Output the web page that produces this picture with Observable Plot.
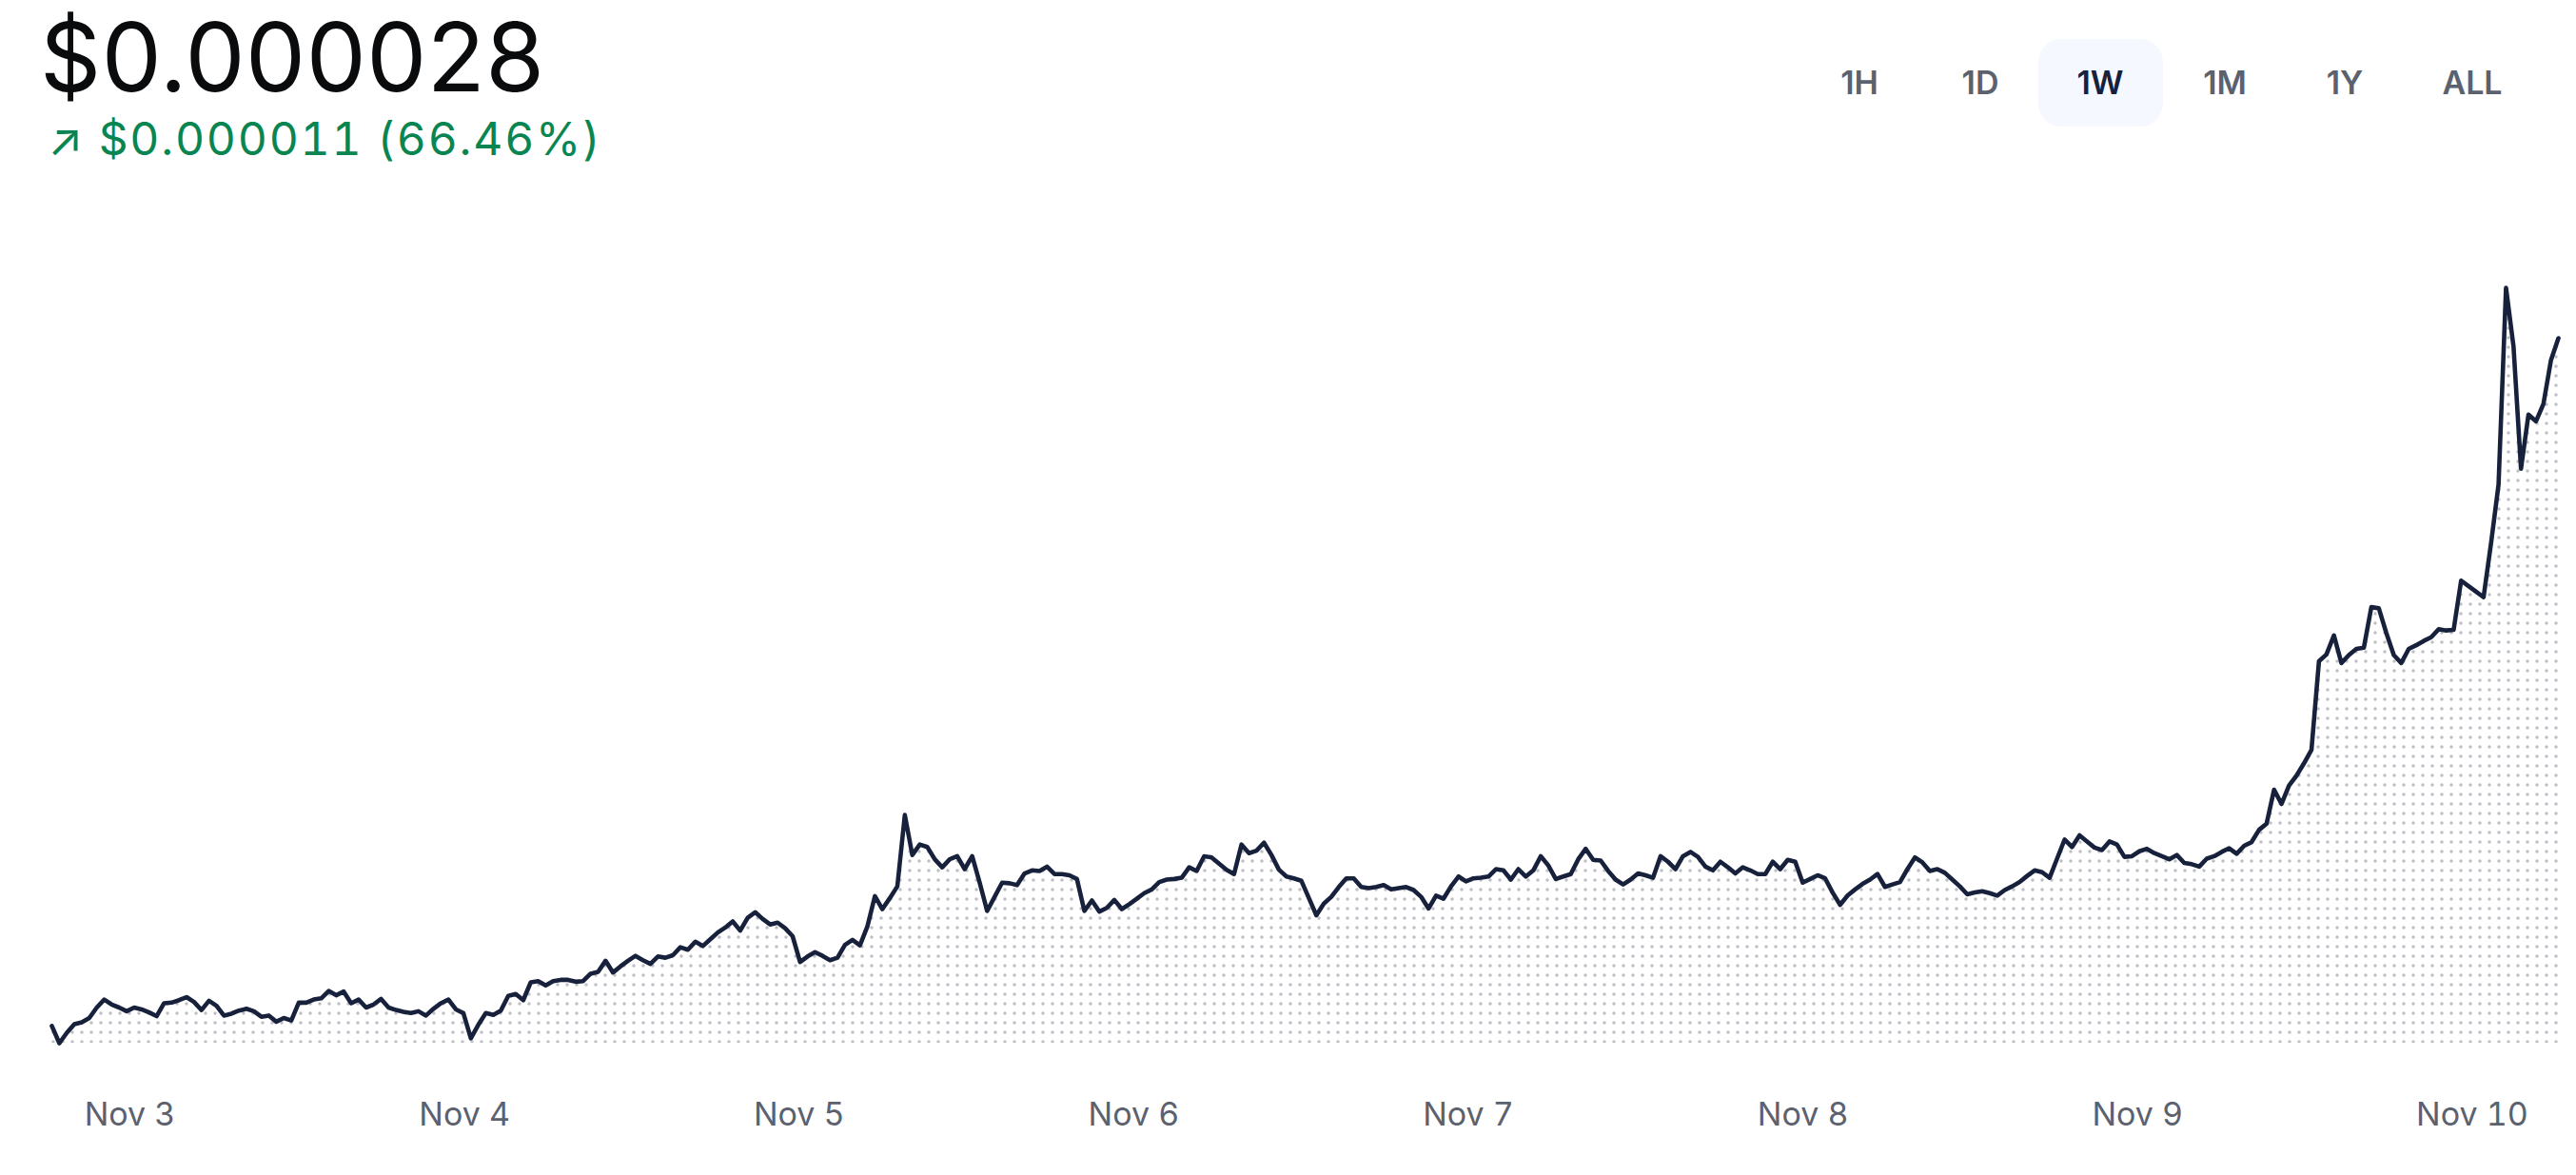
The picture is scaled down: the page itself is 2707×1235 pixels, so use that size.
<!DOCTYPE html>
<html>
<head>
<meta charset="utf-8">
<script src="https://cdn.jsdelivr.net/npm/d3@7"></script>
<script src="https://cdn.jsdelivr.net/npm/@observablehq/plot@0.6"></script>
<style>
  html, body { margin: 0; padding: 0; background: #ffffff; }
  body { width: 2707px; height: 1235px; position: relative; overflow: hidden; font-family: Inter, "Noto Sans", sans-serif; }
  #price { position: absolute; left: 42px; top: 5px; font-size: 100px; line-height: 1.1; letter-spacing: 0.5px; color: #0a0b0d; font-weight: 400; white-space: nowrap; }
  #change { position: absolute; left: 50px; top: 122px; font-size: 48px; line-height: 1; color: #098551; letter-spacing: 1.8px; font-variant-numeric: tabular-nums; white-space: nowrap; }
  .btn { position: absolute; top: 41px; width: 131px; height: 92px; line-height: 92px; text-align: center; font-size: 34px; font-weight: 600; color: #5b616e; border-radius: 24px; }
  .btn.active { background: #f5f8ff; color: #16213e; }
  #chart { position: absolute; left: 0; top: 200px; }
</style>
</head>
<body>
<div id="price"></div>
<div id="change"></div>
<div id="ranges"></div>
<div id="chart"></div>
<script>
// ---- data (prices in millionths of a US dollar, 1W view) ----
const headlinePrice = "$0.000028";
const changeText = "↗ $0.000011 (66.46%)";
const rangeLabels = ["1H", "1D", "1W", "1M", "1Y", "ALL"];
const activeRange = "1W";
const startTime = "2024-11-02T18:24:00Z";
const stepMinutes = 32.2;
const tickDays = ["2024-11-03", "2024-11-04", "2024-11-05", "2024-11-06", "2024-11-07", "2024-11-08", "2024-11-09", "2024-11-10"];
const priceMicroUSD = [
  16.82, 16.54, 16.71, 16.85, 16.88, 16.95, 17.12, 17.25, 17.17, 17.12,
  17.06, 17.12, 17.09, 17.04, 16.98, 17.19, 17.20, 17.24, 17.29, 17.21,
  17.08, 17.23, 17.15, 16.99, 17.02, 17.07, 17.10, 17.06, 16.97, 16.99,
  16.89, 16.95, 16.91, 17.20, 17.20, 17.25, 17.27, 17.39, 17.32, 17.38,
  17.19, 17.25, 17.12, 17.17, 17.26, 17.12, 17.08, 17.05, 17.03, 17.06,
  16.99, 17.10, 17.19, 17.25, 17.09, 17.03, 16.62,
  16.84, 17.03, 17.00, 17.07, 17.31, 17.34, 17.24, 17.53, 17.55, 17.48,
  17.55, 17.57, 17.57, 17.54, 17.55, 17.67, 17.70, 17.88, 17.69, 17.79,
  17.88, 17.96, 17.89, 17.83, 17.95, 17.93, 17.97, 18.10, 18.06, 18.19,
  18.12, 18.23, 18.34, 18.42, 18.52, 18.37, 18.58, 18.67, 18.56, 18.47,
  18.50, 18.41, 18.28, 17.86, 17.95, 18.02, 17.96, 17.89, 17.93, 18.14,
  18.22, 18.13, 18.44, 18.93, 18.72,
  18.90, 19.09, 20.25, 19.60, 19.77, 19.73, 19.53, 19.40, 19.53, 19.58,
  19.37, 19.58, 19.15, 18.69, 18.92, 19.15, 19.14, 19.11, 19.30, 19.35,
  19.34, 19.41, 19.29, 19.29, 19.27, 19.21, 18.69, 18.86, 18.68, 18.74,
  18.87, 18.72, 18.80, 18.89, 18.98, 19.04, 19.16, 19.20, 19.21, 19.23,
  19.40, 19.34, 19.58, 19.56, 19.46, 19.36, 19.29, 19.77, 19.63, 19.67,
  19.80, 19.60, 19.36, 19.25, 19.22, 19.18,
  18.90, 18.62, 18.81, 18.92, 19.08, 19.22, 19.22, 19.08, 19.06, 19.08,
  19.11, 19.04, 19.06, 19.08, 19.03, 18.92, 18.73, 18.94, 18.89, 19.09,
  19.25, 19.17, 19.22, 19.23, 19.25, 19.37, 19.35, 19.20, 19.37, 19.25,
  19.35, 19.58, 19.43, 19.21, 19.25, 19.29, 19.53, 19.70, 19.52, 19.51,
  19.34, 19.20, 19.12, 19.20, 19.30, 19.27, 19.23, 19.58, 19.49, 19.37,
  19.58, 19.65, 19.57, 19.41, 19.35, 19.49,
  19.40, 19.30, 19.40, 19.35, 19.29, 19.29, 19.49, 19.37, 19.52, 19.49,
  19.15, 19.21, 19.27, 19.22, 18.99, 18.79, 18.94, 19.04, 19.13, 19.20,
  19.29, 19.08, 19.12, 19.16, 19.37, 19.56, 19.48, 19.34, 19.37, 19.31,
  19.20, 19.09, 18.96, 18.99, 19.01, 18.98, 18.94, 19.03, 19.09, 19.16,
  19.26, 19.35, 19.32, 19.23, 19.54, 19.85, 19.73, 19.92, 19.82, 19.72,
  19.68, 19.82, 19.77, 19.57, 19.58, 19.66, 19.70, 19.63,
  19.58, 19.53, 19.60, 19.47, 19.45, 19.41, 19.54, 19.58, 19.65, 19.71,
  19.62, 19.75, 19.81, 20.01, 20.11, 20.66, 20.43, 20.73, 20.89, 21.09,
  21.31, 22.75, 22.86, 23.17, 22.72, 22.85, 22.95, 22.97, 23.63, 23.61,
  23.21, 22.85, 22.72, 22.95, 23.01, 23.08, 23.14, 23.27, 23.25, 23.26,
  24.06, 23.97, 23.88, 23.79, 24.67, 25.62, 28.82, 27.87, 25.88, 26.76,
  26.65, 26.93, 27.64, 28.00
];

// ---- header ----
document.getElementById("price").textContent = headlinePrice;
document.getElementById("change").textContent = changeText;
const rangeCenters = [1954, 2081, 2207, 2338, 2464, 2598];
const ranges = document.getElementById("ranges");
rangeLabels.forEach((r, i) => {
  const b = document.createElement("div");
  b.className = "btn" + (r === activeRange ? " active" : "");
  b.style.left = (rangeCenters[i] - 65.5) + "px";
  b.textContent = r;
  ranges.appendChild(b);
});

// ---- chart ----
const t0 = new Date(startTime).getTime();
const data = priceMicroUSD.map((v, i) => ({
  date: new Date(t0 + i * stepMinutes * 60000),
  price: v / 1e6
}));
const minPrice = d3.min(data, d => d.price);
const ticks = tickDays.map(s => new Date(s + "T00:00:00Z"));

const dotDefs = () => {
  const defs = d3.create("svg:defs");
  const p = defs.append("pattern")
    .attr("id", "dots")
    .attr("patternUnits", "userSpaceOnUse")
    .attr("width", 10).attr("height", 10);
  p.append("circle").attr("cx", 6).attr("cy", 5).attr("r", 1.75).attr("fill", "#bcbfc6");
  return defs.node();
};

const chart = Plot.plot({
  width: 2707,
  height: 1035,
  marginTop: 102,
  marginBottom: 139,
  marginLeft: 54,
  marginRight: 19,
  style: { fontFamily: "Inter, 'Noto Sans', sans-serif", fontSize: "34px", color: "#5b616e", background: "transparent", overflow: "visible" },
  x: { type: "utc", domain: d3.extent(data, d => d.date) },
  y: { domain: d3.extent(data, d => d.price), axis: null },
  marks: [
    dotDefs,
    Plot.areaY(data, { x: "date", y1: minPrice, y2: "price", fill: "url(#dots)" }),
    Plot.lineY(data, { x: "date", y: "price", stroke: "#17213c", strokeWidth: 4.6, strokeLinejoin: "round" }),
    Plot.axisX({ ticks: ticks, tickFormat: d3.utcFormat("%b %-d"), tickSize: 0, tickPadding: 62, fill: "#5b616e" })
  ]
});
document.getElementById("chart").appendChild(chart);
</script>
</body>
</html>
